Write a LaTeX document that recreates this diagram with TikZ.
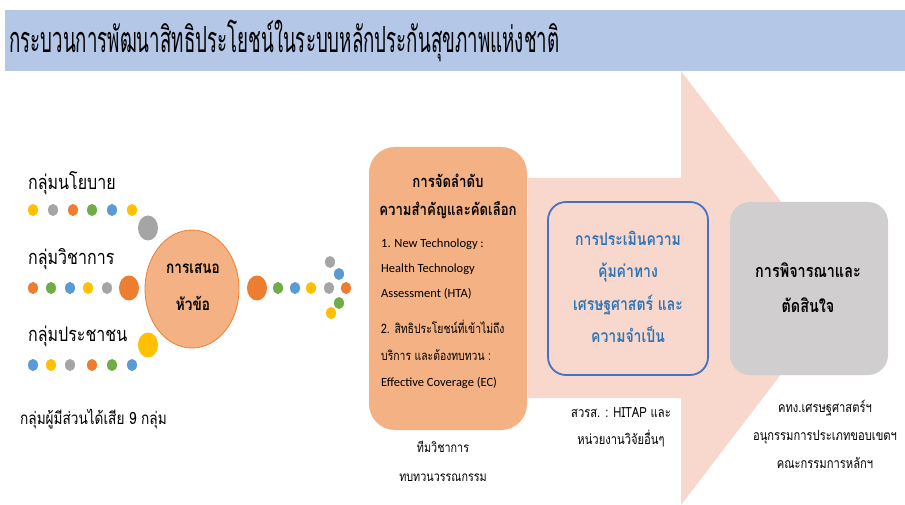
\documentclass[tikz,border=0pt]{standalone}
\usepackage{fontspec}
\usetikzlibrary{shapes.geometric}
\setmainfont{Carlito}
\newfontfamily\thai[Script=Thai,FakeStretch=0.8]{Loma}
\newfontfamily\thaititle[Script=Thai,FakeStretch=0.52]{Loma}
\definecolor{titleblue}{HTML}{B4C7E7}
\definecolor{arrowpink}{HTML}{F8D8CD}
\definecolor{orangebox}{HTML}{F4B183}
\definecolor{orangeline}{HTML}{ED7D31}
\definecolor{bluebox}{HTML}{4472C4}
\definecolor{bluetext}{HTML}{2E75B6}
\definecolor{graybox}{HTML}{D0CECE}
\definecolor{dY}{HTML}{FFC000}
\definecolor{dG}{HTML}{A5A5A5}
\definecolor{dO}{HTML}{ED7D31}
\definecolor{dN}{HTML}{70AD47}
\definecolor{dB}{HTML}{5B9BD5}
\tikzset{
  lbl/.style={font=\thai\fontsize{20}{22}\selectfont, inner sep=0pt},
  small/.style={font=\thai\fontsize{14}{27}\selectfont, inner sep=0pt, align=center},
  boxtitle/.style={font=\thai\bfseries\fontsize{16.5}{28}\selectfont, inner sep=0pt, align=center},
}
\newcommand{\mydot}[3]{\fill[#1] (#2,#3) ellipse [x radius=5, y radius=6];}
\newcommand{\mybigdot}[3]{\fill[#1] (#2,#3) ellipse [x radius=10, y radius=12.5];}
\begin{document}
\begin{tikzpicture}[x=1pt,y=-1pt]
\useasboundingbox (0,0) rectangle (905,505);
\fill[white] (0,0) rectangle (905,505);
% title band
\fill[titleblue] (5,10) rectangle (905,71);
\node[anchor=west, inner sep=0pt] (title) at (9,41) {\thaititle\fontsize{36}{36}\selectfont กระบวนการพัฒนาสิทธิประโยชน์ในระบบหลักประกันสุขภาพแห่งชาติ};
% big arrow
\fill[arrowpink] (528,178) -- (681,178) -- (681,71) -- (847,288) -- (681,505) -- (681,398) -- (528,398) -- cycle;
% left labels
\node[lbl, anchor=west] (g1) at (28,183) {กลุ่มนโยบาย};
\node[lbl, anchor=west] (g2) at (28,259) {กลุ่มวิชาการ};
\node[lbl, anchor=west] (g3) at (28,336) {กลุ่มประชาชน};
\node[lbl, anchor=west, font=\thai\fontsize{17}{20}\selectfont] (g9) at (20,419) {กลุ่มผู้มีส่วนได้เสีย 9 กลุ่ม};
% dots row 1
\mydot{dY}{33}{210}\mydot{dG}{53}{210}\mydot{dO}{73}{210}\mydot{dN}{92}{210}\mydot{dB}{112}{210}\mydot{dY}{132}{210}
\mybigdot{dG}{148}{228}
% row 2
\mydot{dO}{33}{288}\mydot{dN}{51}{288}\mydot{dB}{70}{288}\mydot{dY}{88}{288}\mydot{dG}{107}{288}
\mybigdot{dO}{129}{288}
% row 3
\mydot{dB}{33}{365}\mydot{dY}{51}{365}\mydot{dG}{70}{365}\mydot{dO}{92}{365}\mydot{dN}{112}{365}\mydot{dB}{132}{365}
\mybigdot{dY}{148}{345}
% proposal ellipse
\node[draw=orangeline, fill=orangebox, ellipse, minimum width=94, minimum height=118, inner sep=0pt, line width=0.8] (prop) at (192,289) {};
\node[boxtitle, font=\thai\bfseries\fontsize{17}{37}\selectfont] (propt) at (193,287) {การเสนอ\\หัวข้อ};
% right dots
\mybigdot{dO}{257}{288}
\mydot{dN}{278}{288}\mydot{dB}{295}{288}\mydot{dY}{311}{288}\mydot{dG}{329}{288}\mydot{dO}{346}{288}
\mydot{dG}{330}{262}\mydot{dB}{339}{274}\mydot{dN}{339}{303}\mydot{dY}{331}{313}
% orange box
\node[fill=orangebox, rounded corners=26, minimum width=158, minimum height=283, inner sep=0pt] (prio) at (448,288.5) {};
\node[boxtitle] (priot) at (448,196) {การจัดลำดับ\\ความสำคัญและคัดเลือก};
\node[anchor=north west, inner sep=0pt, align=left, font=\fontsize{12.5}{25}\selectfont] (priol) at (381,239)
  {1. New Technology :\\ Health Technology\\ Assessment (HTA)};
\node[anchor=north west, inner sep=0pt, align=left, font=\fontsize{12.5}{26.5}\selectfont] (prio2) at (381,320)
  {{\thai\fontsize{13}{13}\selectfont 2. สิทธิประโยชน์ที่เข้าไม่ถึง}\\ {\thai\fontsize{13}{13}\selectfont บริการ และต้องทบทวน :}\\ Effective Coverage (EC)};
\node[small, font=\thai\fontsize{13.5}{29}\selectfont] (team) at (443,461) {ทีมวิชาการ\\ทบทวนวรรณกรรม};
% blue box
\node[draw=bluebox, line width=1.8, rounded corners=18, minimum width=160, minimum height=173, inner sep=0pt] (eval) at (628,288.5) {};
\node[boxtitle, text=bluetext, font=\thai\bfseries\fontsize{17.5}{32.5}\selectfont] (evalt) at (628,287) {การประเมินความ\\คุ้มค่าทาง\\เศรษฐศาสตร์ และ\\ความจำเป็น};
\node[small] (hitap) at (621,427) {สวรส. : HITAP และ\\หน่วยงานวิจัยอื่นๆ};
% gray box
\node[fill=graybox, rounded corners=20, minimum width=158, minimum height=173, inner sep=0pt] (dec) at (809,288.5) {};
\node[boxtitle, font=\thai\bfseries\fontsize{18}{35}\selectfont] (dect) at (808,288) {การพิจารณาและ\\ตัดสินใจ};
\node[small, font=\thai\fontsize{14}{28}\selectfont] (comm) at (825,434) {คทง.เศรษฐศาสตร์ฯ\\อนุกรรมการประเภทขอบเขตฯ\\คณะกรรมการหลักฯ};
\end{tikzpicture}
\end{document}
